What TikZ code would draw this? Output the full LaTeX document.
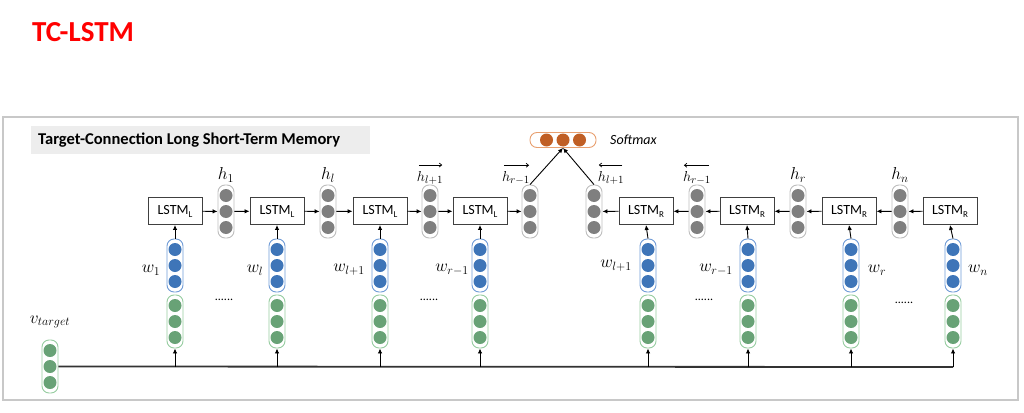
\documentclass[tikz,border=0pt]{standalone}
\usepackage{fontspec}
\setmainfont{Carlito}
\usetikzlibrary{arrows.meta}
\definecolor{gcirc}{HTML}{7F7F7F}
\definecolor{gbord}{HTML}{BDBDBD}
\definecolor{bcirc}{HTML}{3E75B8}
\definecolor{bbord}{HTML}{6F9BD6}
\definecolor{ecirc}{HTML}{68A276}
\definecolor{ebord}{HTML}{96CCA0}
\definecolor{ocirc}{HTML}{C05F25}
\definecolor{obord}{HTML}{E8A070}
\definecolor{frame}{HTML}{C8C8C8}
\definecolor{hdr}{HTML}{EDEDED}
\tikzset{
  colbox/.style={draw=#1, line width=0.9pt, rounded corners=7pt, minimum width=16pt, minimum height=53pt, inner sep=0pt},
  hcolbox/.style={draw=#1, line width=0.9pt, rounded corners=7pt, minimum width=66pt, minimum height=15pt, inner sep=0pt},
  lstmbox/.style={draw=black!75, line width=0.9pt, fill=white, minimum width=54pt, minimum height=27pt, inner sep=0pt, font=\fontsize{14}{14}\selectfont},
  conn/.style={line width=0.9pt, -{Latex[length=5pt,width=4.5pt]}},
  lbl/.style={font=\fontsize{17}{17}\selectfont, inner sep=0pt},
  dirlbl/.style={font=\fontsize{15}{15}\selectfont, inner sep=0pt},
  vecarrow/.style={line width=0.7pt, -{Straight Barb[length=2.5pt,width=4pt]}},
  dotsl/.style={font=\fontsize{12}{12}\selectfont, inner sep=0pt},
}
\newcommand\mkcol[5]{% name, x, y, border, circle
  \node[colbox=#4] (#1) at (#2,#3) {};
  \fill[#5] (#1.center) circle (6.5pt);
  \fill[#5] ([yshift=16pt]#1.center) circle (6.5pt);
  \fill[#5] ([yshift=-16pt]#1.center) circle (6.5pt);
}
\newcommand\lsub[1]{\raisebox{-3pt}{\fontsize{9}{9}\selectfont #1}}
\begin{document}
\begin{tikzpicture}[x=1pt,y=-1pt]
\useasboundingbox (0,0) rectangle (1024,412);
% title
\node[font=\fontsize{29}{29}\selectfont\bfseries, text=red, anchor=west, inner sep=0pt] (title) at (32,32) {TC-LSTM};
% frame
\draw[frame, line width=1.3pt] (3,117) rectangle (1018,400);
\fill[hdr] (31,126) rectangle (370,154);
\node[font=\fontsize{16.5}{16.5}\selectfont\bfseries, anchor=west, inner sep=0pt] (hdrtext) at (38,140) {Target-Connection Long Short-Term Memory};
% softmax
\node[hcolbox=obord] (sm) at (563,140) {};
\fill[ocirc] (sm.center) circle (6.5pt);
\fill[ocirc] ([xshift=-16.5pt]sm.center) circle (6.5pt);
\fill[ocirc] ([xshift=16.5pt]sm.center) circle (6.5pt);
\node[font=\fontsize{14}{14}\selectfont\itshape, anchor=west, inner sep=0pt] (smt) at (610,140) {Softmax};
% LSTM boxes
\node[lstmbox] (L1) at (175,211) {LSTM\lsub{L}};
\node[lstmbox] (L2) at (277,211) {LSTM\lsub{L}};
\node[lstmbox] (L3) at (380,211) {LSTM\lsub{L}};
\node[lstmbox] (L4) at (480,211) {LSTM\lsub{L}};
\node[lstmbox] (R1) at (646,211) {LSTM\lsub{R}};
\node[lstmbox] (R2) at (747,211) {LSTM\lsub{R}};
\node[lstmbox] (R3) at (849,211) {LSTM\lsub{R}};
\node[lstmbox] (R4) at (950,211) {LSTM\lsub{R}};
% hidden columns
\mkcol{H1}{226}{211.5}{gbord}{gcirc}
\mkcol{H2}{328}{211.5}{gbord}{gcirc}
\mkcol{H3}{430}{211.5}{gbord}{gcirc}
\mkcol{H4}{530}{211.5}{gbord}{gcirc}
\mkcol{H5}{594}{211.5}{gbord}{gcirc}
\mkcol{H6}{697}{211.5}{gbord}{gcirc}
\mkcol{H7}{798}{211.5}{gbord}{gcirc}
\mkcol{H8}{900}{211.5}{gbord}{gcirc}
% hidden labels
\node[lbl] (h1) at (226,175) {$h_1$};
\node[lbl] (h2) at (328,175) {$h_l$};
\node[dirlbl] (h3) at (430,178) {$h_{l+1}$};
\node[dirlbl] (h4) at (516,178) {$h_{r-1}$};
\node[dirlbl] (h5) at (611,178) {$h_{l+1}$};
\node[dirlbl] (h6) at (697,178) {$h_{r-1}$};
\node[lbl] (h7) at (798,175) {$h_r$};
\node[lbl] (h8) at (900,175) {$h_n$};
\draw[vecarrow] ([xshift=2pt,yshift=6pt]h3.north west) -- ([xshift=-1pt,yshift=6pt]h3.north east);
\draw[vecarrow] ([xshift=2pt,yshift=6pt]h4.north west) -- ([xshift=-1pt,yshift=6pt]h4.north east);
\draw[vecarrow] ([xshift=-2pt,yshift=6pt]h5.north east) -- ([xshift=1pt,yshift=6pt]h5.north west);
\draw[vecarrow] ([xshift=-2pt,yshift=6pt]h6.north east) -- ([xshift=1pt,yshift=6pt]h6.north west);
% word columns
\foreach \n/\x in {1/175,2/277,3/380,4/480,5/648,6/748,7/851,8/953}{
  \mkcol{B\n}{\x}{265.5}{bbord}{bcirc}
  \mkcol{G\n}{\x}{321.5}{ebord}{ecirc}
  \coordinate (T\n) at (\x,367);
}
% target column
\mkcol{VT}{50}{366.5}{ebord}{ecirc}
\node[lbl] (vtl) at (50,322) {$v_{target}$};
% word labels
\node[lbl] (w1) at (151,270) {$w_1$};
\node[lbl] (w2) at (255,270) {$w_l$};
\node[lbl] (w3) at (349,270) {$w_{l+1}$};
\node[lbl] (w4) at (452,270) {$w_{r-1}$};
\node[lbl] (w5) at (616,266) {$w_{l+1}$};
\node[lbl] (w6) at (716,270) {$w_{r-1}$};
\node[lbl] (w7) at (877,270) {$w_r$};
\node[lbl] (w8) at (978,270) {$w_n$};
% dots
\node[dotsl] (d1) at (224,300) {......};
\node[dotsl] (d2) at (429,300) {......};
\node[dotsl] (d3) at (704,300) {......};
\node[dotsl] (d4) at (904,303) {......};
% bottom line
\draw[black!80, line width=1.8pt] (VT.east) -- (T8);
\foreach \n in {1,...,8}{
  \draw[conn] (T\n) -- (G\n.south);
}
% word to LSTM
\draw[conn] (B1.north) -- (L1.south);
\draw[conn] (B2.north) -- (L2.south);
\draw[conn] (B3.north) -- (L3.south);
\draw[conn] (B4.north) -- (L4.south);
\draw[conn] (B5.north) -- (R1.south);
\draw[conn] (B6.north) -- (R2.south);
\draw[conn] (B7.north) -- (R3.south);
\draw[conn] (B8.north) -- (R4.south);
% forward chain
\draw[conn] (L1) -- (H1);
\draw[conn] (H1) -- (L2);
\draw[conn] (L2) -- (H2);
\draw[conn] (H2) -- (L3);
\draw[conn] (L3) -- (H3);
\draw[conn] (H3) -- (L4);
\draw[conn] (L4) -- (H4);
% backward chain
\draw[conn] (R4) -- (H8);
\draw[conn] (H8) -- (R3);
\draw[conn] (R3) -- (H7);
\draw[conn] (H7) -- (R2);
\draw[conn] (R2) -- (H6);
\draw[conn] (H6) -- (R1);
\draw[conn] (R1) -- (H5);
% to softmax
\draw[conn] (H4.north) -- (sm.south);
\draw[conn] (H5.north) -- (sm.south);
\end{tikzpicture}
\end{document}
